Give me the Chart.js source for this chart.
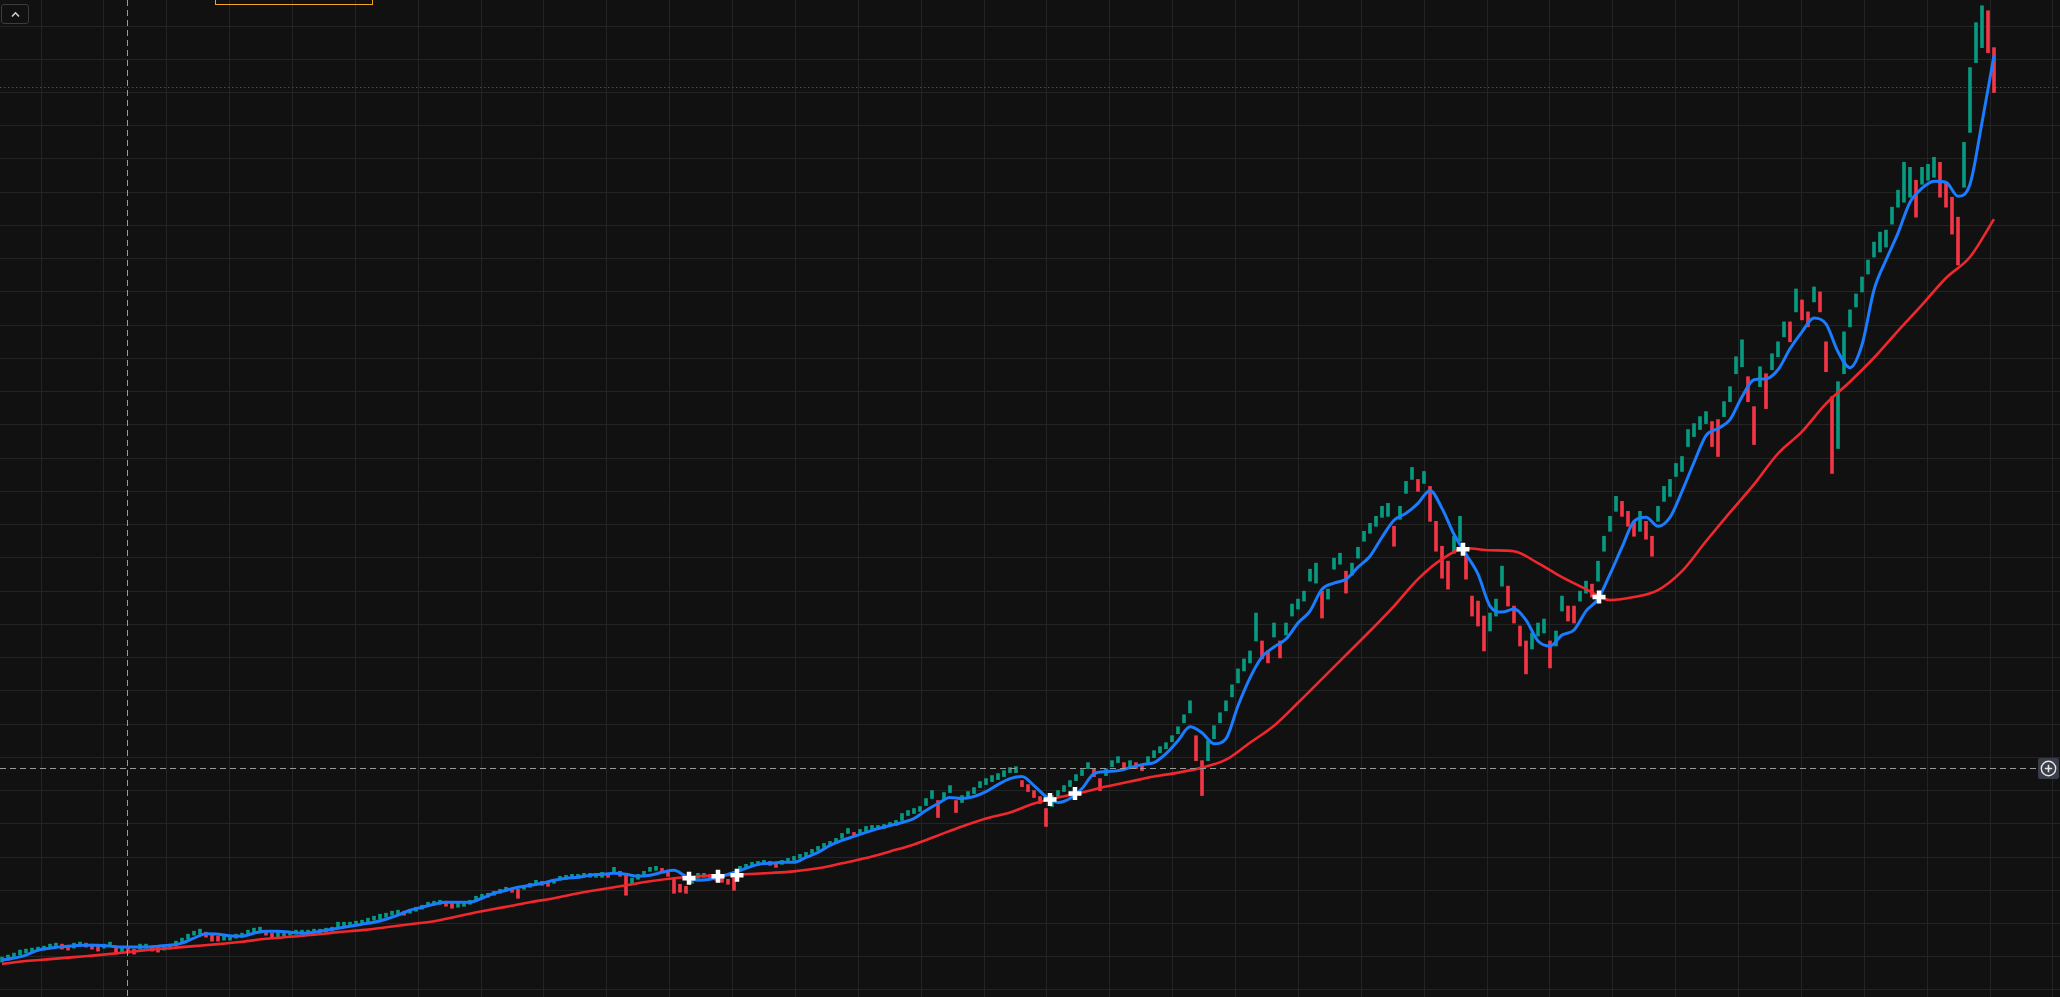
<!DOCTYPE html>
<html>
<head>
<meta charset="utf-8">
<script src="https://cdn.jsdelivr.net/npm/chart.js@4.4.1/dist/chart.umd.min.js"></script>
<style>
html,body{margin:0;padding:0;background:#111111;overflow:hidden;}
#wrap{position:relative;width:2060px;height:997px;}
canvas{display:block;}
#collapse{position:absolute;left:1px;top:4px;width:28px;height:20px;border:1px solid #3c3c3c;border-radius:3px;box-sizing:border-box;}
#collapse svg{position:absolute;left:0;top:0;}
#frameBox{position:absolute;left:215px;top:-20px;width:158px;height:25px;border:1px solid #f5a524;box-sizing:border-box;}
#addBtn{position:absolute;left:2038px;top:758px;width:21px;height:21px;background:#393d48;border-radius:2px;}
#addBtn svg{position:absolute;left:0;top:0;}
</style>
</head>
<body>
<div id="wrap">
<canvas id="c" width="2060" height="997"></canvas>
<div id="collapse"><svg width="26" height="18"><polyline points="10,11.5 13.5,7.8 17,11.5" fill="none" stroke="#d2d2d2" stroke-width="1.6"/></svg></div>
<div id="frameBox"></div>
<div id="addBtn"><svg width="21" height="21"><circle cx="10.5" cy="10.5" r="7.2" fill="none" stroke="#e6e6e6" stroke-width="1.4"/><path d="M10.5 6.8v7.4M6.8 10.5h7.4" stroke="#e6e6e6" stroke-width="1.6"/></svg></div>
</div>
<script>
// ---- data (price units) ----
const candleHigh = [
1099,1105,1111,1120,1123,1126,1129,1132,1138,1141,
1138,1132,1141,1144,1141,1138,1132,1138,1144,1126,
1129,1126,1123,1138,1138,1132,1129,1132,1138,1147,
1156,1168,1177,1183,1174,1165,1162,1162,1162,1168,
1171,1180,1186,1189,1177,1171,1174,1174,1177,1180,
1180,1180,1183,1183,1186,1189,1204,1204,1204,1207,
1210,1216,1222,1228,1231,1237,1240,
1237,1243,1249,1255,1264,1267,1270,1267,1261,1261,
1264,1270,1282,1288,1291,1297,1303,1309,1306,1303,
1315,1321,1330,1327,1324,1333,1342,1345,1348,1348,
1351,1351,1351,1354,1351,1369,1357,1351,1336,1348,
1357,1369,1372,1366,1360,1336,1318,1312,1339,1351,
1351,1348,1342,1339,1333,1336,1372,1378,1384,1387,
1390,1387,1381,1390,1396,1402,1408,1414,1423,1432,
1441,1447,1456,1471,1486,1474,1483,1492,1495,1495,
1498,1504,1510,1531,
1540,1546,1552,1576,1600,1570,1594,1615,1570,1585,
1597,1609,1627,1636,1645,1651,1660,1669,1672,1630,
1618,1600,1582,1546,1585,1600,1615,1630,1648,1663,
1684,1666,1636,1666,1690,1702,1684,1690,1684,1678,
1702,1720,1732,1744,1765,1792,
1828,1870,1765,1690,1750,1795,1834,1870,1918,1966,
1996,2020,2134,2050,2020,2104,2050,2104,2161,2176,
2200,2266,2284,2200,2206,2299,2314,2260,2284,2332,
2380,2404,2425,2455,2464,2395,2455,2530,2572,2536,
2560,2515,2410,2335,2290,2365,2425,2305,2185,2170,
2125,2134,2176,2275,2215,2155,2095,2050,2074,2104,
2116,2050,2080,2185,2155,2155,2200,2230,2221,2290,
2365,2425,2485,2470,2440,2410,2440,2410,2365,2455,
2515,2536,2584,
2605,2686,2704,2725,2740,2710,2716,2770,2815,2905,
2956,2845,2755,2875,2854,2914,2950,3010,3010,3109,
3076,3040,3115,3100,2950,2785,2830,2980,3046,3094,
3145,3196,3250,3280,3286,3355,3406,3490,3475,3436,
3475,3484,3505,3490,3430,3385,3325,3550,3775,3910,
3961,3946,3835
];
const candleLow = [
1084,1090,1096,1105,1111,1114,1117,1120,1123,1129,
1123,1120,1126,1132,1129,1123,1117,1126,1132,1108,
1114,1111,1108,1123,1126,1117,1114,1120,1123,1132,
1141,1153,1165,1168,1159,1147,1147,1150,1150,1156,
1159,1168,1174,1177,1165,1156,1159,1162,1165,1168,
1168,1168,1171,1171,1174,1177,1189,1192,1192,1195,
1198,1204,1210,1213,1219,1225,1228,
1225,1231,1237,1243,1252,1255,1258,1252,1246,1249,
1252,1258,1270,1276,1279,1285,1291,1297,1294,1276,
1303,1309,1318,1315,1312,1321,1330,1333,1336,1336,
1339,1339,1339,1339,1339,1354,1342,1285,1318,1333,
1342,1357,1360,1354,1342,1291,1294,1291,1321,1336,
1339,1336,1330,1324,1318,1300,1357,1366,1372,1375,
1378,1375,1369,1378,1384,1390,1396,1399,1411,1420,
1429,1435,1441,1456,1471,1462,1471,1477,1483,1483,
1486,1492,1495,1510,
1525,1531,1537,1555,1576,1519,1576,1594,1534,1564,
1579,1591,1609,1618,1627,1633,1642,1654,1654,1612,
1597,1579,1561,1492,1552,1582,1597,1612,1630,1645,
1666,1642,1600,1645,1672,1684,1666,1672,1666,1660,
1684,1699,1714,1726,1747,1771,
1804,1834,1690,1585,1690,1756,1804,1840,1882,1924,
1960,1984,2050,1996,1984,2062,1999,2068,2125,2146,
2170,2230,2224,2119,2176,2266,2281,2194,2248,2299,
2350,2374,2395,2422,2425,2335,2416,2494,2536,2500,
2524,2410,2320,2239,2206,2314,2350,2236,2125,2095,
2020,2080,2125,2215,2155,2104,2035,1951,2026,2065,
2074,1969,2035,2140,2110,2104,2170,2194,2182,2230,
2320,2380,2440,2425,2395,2365,2380,2356,2305,2410,
2470,2485,2545,
2560,2635,2665,2686,2704,2635,2605,2725,2770,2854,
2875,2770,2641,2815,2749,2866,2905,2965,2950,3040,
3016,2995,3070,3040,2860,2554,2629,2854,2995,3055,
3100,3154,3205,3220,3235,3304,3355,3370,3385,3325,
3424,3436,3445,3385,3355,3274,3181,3415,3580,3790,
3835,3820,3700
];
// fast moving average (blue), one value every 2 candles
const fastMA = [
1090,1096,1105,1120,1126,1130,1133,1135,1135,1132,
1129,1129,1129,1132,1135,1141,1156,1169,1168,1163,
1162,1171,1177,1177,1174,1171,1174,1180,1186,1192,
1198,1204,1213,1225,1240,1249,1258,1264,1264,1264,
1276,1291,1300,1309,1315,1321,1330,1336,1339,1345,
1348,1351,1348,1342,1345,1354,1360,1342,1330,1333,
1342,1354,1366,1378,1381,1384,1384,1399,1414,1435,
1450,1462,1474,1486,1495,1504,1516,1540,1561,1579,
1576,1582,1597,1618,1636,1642,1615,1582,1564,1576,
1606,1651,1657,1660,1669,1678,1684,1711,1750,1792,
1774,1741,1756,1855,1939,2002,2032,2056,2104,2140,
2206,2224,2236,2272,2305,2362,2413,2434,2464,2503,
2449,2371,2311,2251,2155,2137,2146,2113,2050,2035,
2068,2083,2140,2176,2251,2332,2410,2422,2395,2422,
2500,2587,2668,2689,2716,2785,2836,2839,2866,2929,
2980,3022,3004,2920,2872,2941,3106,3196,3277,3370,
3412,3433,3430,3388,3424,3610,3811
];
// slow moving average (red), one value every 4 candles
const slowMA = [
1078,1087,1093,1099,1105,1112,1120,1126,1132,1138,
1145,1154,1160,1166,1174,1180,1189,1198,1207,1222,
1237,1250,1264,1276,1291,1303,1315,1327,1336,1342,
1345,1348,1352,1357,1366,1381,1397,1417,1438,1465,
1492,1516,1534,1561,1579,1594,1612,1627,1642,1654,
1669,1693,1744,1795,1864,1936,2008,2080,2155,2236,
2296,2329,2323,2320,2284,2242,2206,2173,2182,2203,
2260,2350,2437,2521,2614,2680,2764,2830,2902,2983,
3061,3142,3205,3319
];
// crossover markers (candle index, price)
const crossIdx = [114.5, 119.33, 122.5, 174.67, 178.83, 243.5, 266.17];
const crossVal = [1336, 1342, 1345, 1573, 1591, 2326, 2182];
const lastClose = 3716;
const cursorIdx = 20.75;
const cursorVal = 1668;

// ---- build ----
const UP = '#089981', DOWN = '#f23645';
const candleData = candleHigh.map((h, i) => ({x: i, y: [candleLow[i], h]}));
const candleColors = candleHigh.map((h, i) => {
  if (i === 0) return UP;
  const m = (h + candleLow[i]) / 2, pm = (candleHigh[i-1] + candleLow[i-1]) / 2;
  return m >= pm ? UP : DOWN;
});
const fastData = fastMA.map((v, k) => ({x: 2 * k, y: v}));
const slowData = slowMA.map((v, k) => ({x: 4 * k, y: v}));
const crossData = crossIdx.map((x, k) => ({x: x, y: crossVal[k]}));

const bgPlugin = {
  id: 'bg',
  beforeDraw(chart) {
    const c = chart.ctx; c.save(); c.fillStyle = '#111111';
    c.fillRect(0, 0, chart.width, chart.height); c.restore();
  }
};
const priceLinePlugin = {
  id: 'priceLine',
  beforeDatasetsDraw(chart) {
    const c = chart.ctx, y = Math.round(chart.scales.y.getPixelForValue(lastClose)) + 0.5;
    c.save(); c.strokeStyle = '#8a2f37'; c.lineWidth = 1; c.setLineDash([1.5, 2.5]);
    c.beginPath(); c.moveTo(0, y); c.lineTo(chart.width, y); c.stroke(); c.restore();
  }
};
const cursorPlugin = {
  id: 'cursor',
  afterDatasetsDraw(chart) {
    const c = chart.ctx;
    const x = Math.round(chart.scales.x.getPixelForValue(cursorIdx)) + 0.5;
    const y = Math.round(chart.scales.y.getPixelForValue(cursorVal)) + 0.5;
    c.save(); c.strokeStyle = '#9a9a9a'; c.lineWidth = 1; c.setLineDash([6, 4]);
    c.beginPath(); c.moveTo(x, 0); c.lineTo(x, chart.height); c.stroke();
    c.beginPath(); c.moveTo(0, y); c.lineTo(2036, y); c.stroke();
    c.restore();
  }
};

const gridColor = '#242424';
new Chart(document.getElementById('c'), {
  type: 'bar',
  data: {
    datasets: [
      {type: 'scatter', data: crossData, pointStyle: 'cross', pointRadius: 6.5, pointBorderWidth: 4.5,
       pointBorderColor: '#ffffff', pointBackgroundColor: '#ffffff', order: 0},
      {type: 'line', data: fastData, borderColor: '#1a7cff', borderWidth: 3, pointRadius: 0,
       cubicInterpolationMode: 'monotone', fill: false, order: 1},
      {type: 'line', data: slowData, borderColor: '#f0282d', borderWidth: 2.6, pointRadius: 0,
       cubicInterpolationMode: 'monotone', fill: false, order: 2},
      {type: 'bar', data: candleData, backgroundColor: candleColors, borderWidth: 0,
       barThickness: 3, order: 3}
    ]
  },
  options: {
    responsive: false,
    devicePixelRatio: 1,
    animation: false,
    events: [],
    layout: {padding: 0, autoPadding: false},
    plugins: {legend: {display: false}, tooltip: {enabled: false}},
    scales: {
      x: {
        type: 'linear', min: -1/3, max: 343, offset: false,
        grid: {color: gridColor, lineWidth: 1, drawTicks: false, offset: false},
        border: {display: false},
        ticks: {display: false},
        afterBuildTicks(s) { const t = []; for (let k = 0; k <= 32; k++) t.push({value: 6.5 + 10.479 * k}); s.ticks = t; }
      },
      y: {
        type: 'linear', min: 978.94, max: 3978.3, beginAtZero: false,
        grid: {color: gridColor, lineWidth: 1, drawTicks: false},
        border: {display: false},
        ticks: {display: false},
        afterBuildTicks(s) { const t = []; for (let v = 1000; v <= 3900; v += 100) t.push({value: v}); s.ticks = t; }
      }
    }
  },
  plugins: [bgPlugin, priceLinePlugin, cursorPlugin]
});
</script>
</body>
</html>
